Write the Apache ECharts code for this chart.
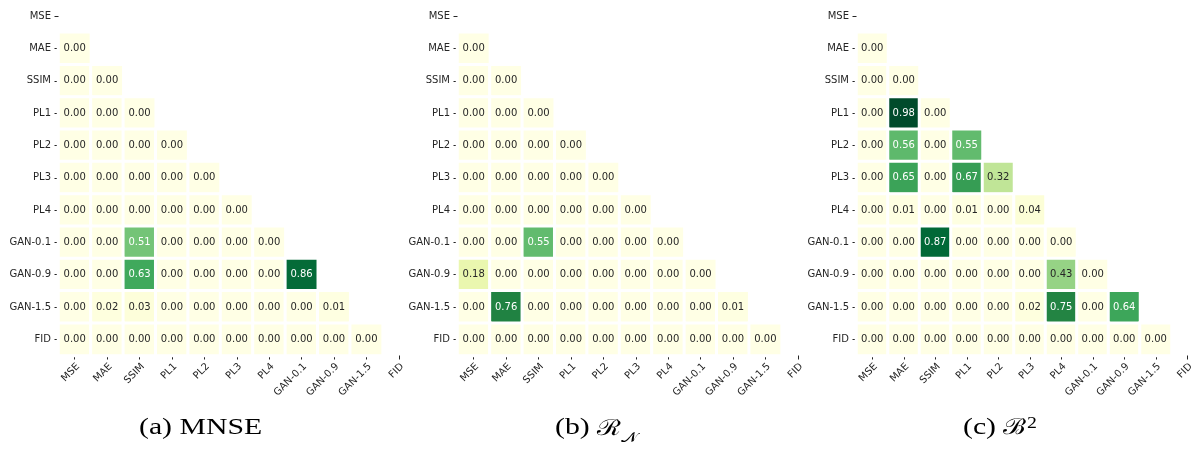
<!DOCTYPE html>
<html>
<head>
<meta charset="utf-8">
<script src="https://cdn.jsdelivr.net/npm/echarts@6/dist/echarts.min.js"></script>
<style>
  html, body { margin: 0; padding: 0; background: #fff; }
  #chart { width: 1203px; height: 449px; }
</style>
</head>
<body>
<div id="chart"></div>
<script>
// Metric names shared by both axes
const categories = ['MSE', 'MAE', 'SSIM', 'PL1', 'PL2', 'PL3', 'PL4', 'GAN-0.1', 'GAN-0.9', 'GAN-1.5', 'FID'];

// Lower-triangle values: row i holds columns 0..i-1 (row MSE has none)
const mnse = [
  [],
  [0.00],
  [0.00, 0.00],
  [0.00, 0.00, 0.00],
  [0.00, 0.00, 0.00, 0.00],
  [0.00, 0.00, 0.00, 0.00, 0.00],
  [0.00, 0.00, 0.00, 0.00, 0.00, 0.00],
  [0.00, 0.00, 0.51, 0.00, 0.00, 0.00, 0.00],
  [0.00, 0.00, 0.63, 0.00, 0.00, 0.00, 0.00, 0.86],
  [0.00, 0.02, 0.03, 0.00, 0.00, 0.00, 0.00, 0.00, 0.01],
  [0.00, 0.00, 0.00, 0.00, 0.00, 0.00, 0.00, 0.00, 0.00, 0.00]
];

const rn = [
  [],
  [0.00],
  [0.00, 0.00],
  [0.00, 0.00, 0.00],
  [0.00, 0.00, 0.00, 0.00],
  [0.00, 0.00, 0.00, 0.00, 0.00],
  [0.00, 0.00, 0.00, 0.00, 0.00, 0.00],
  [0.00, 0.00, 0.55, 0.00, 0.00, 0.00, 0.00],
  [0.18, 0.00, 0.00, 0.00, 0.00, 0.00, 0.00, 0.00],
  [0.00, 0.76, 0.00, 0.00, 0.00, 0.00, 0.00, 0.00, 0.01],
  [0.00, 0.00, 0.00, 0.00, 0.00, 0.00, 0.00, 0.00, 0.00, 0.00]
];

const b2 = [
  [],
  [0.00],
  [0.00, 0.00],
  [0.00, 0.98, 0.00],
  [0.00, 0.56, 0.00, 0.55],
  [0.00, 0.65, 0.00, 0.67, 0.32],
  [0.00, 0.01, 0.00, 0.01, 0.00, 0.04],
  [0.00, 0.00, 0.87, 0.00, 0.00, 0.00, 0.00],
  [0.00, 0.00, 0.00, 0.00, 0.00, 0.00, 0.43, 0.00],
  [0.00, 0.00, 0.00, 0.00, 0.00, 0.02, 0.75, 0.00, 0.64],
  [0.00, 0.00, 0.00, 0.00, 0.00, 0.00, 0.00, 0.00, 0.00, 0.00]
];

const panels = [mnse, rn, b2];

// YlGn colour ramp
const ylgn = ['#ffffe5', '#f7fcb9', '#d9f0a3', '#addd8e', '#78c679', '#41ab5d', '#238443', '#006837', '#004529'];

const FONT = 'DejaVu Sans';
const gridLeft = [58.5, 457.5, 856.5];

function toData(matrix) {
  const out = [];
  matrix.forEach((row, y) => {
    row.forEach((v, x) => {
      out.push({
        value: [x, y, v],
        label: { color: v > 0.5 ? '#ffffff' : '#262626' }
      });
    });
  });
  return out;
}

const tickStyle = { show: true, alignWithLabel: true, interval: 0, length: 4, lineStyle: { color: '#262626', width: 1 } };

const grids = [], xAxes = [], yAxes = [], series = [], visualMaps = [];
panels.forEach((m, i) => {
  grids.push({ left: gridLeft[i], width: 356.5, top: -2, height: 357.5 });
  xAxes.push({
    type: 'category', gridIndex: i, data: categories,
    axisLine: { show: false },
    axisTick: tickStyle,
    axisLabel: { interval: 0, rotate: 45, margin: 6, verticalAlign: 'top', fontFamily: FONT, fontSize: 10, color: '#262626' },
    splitLine: { show: false }
  });
  yAxes.push({
    type: 'category', gridIndex: i, data: categories, inverse: true,
    axisLine: { show: false },
    axisTick: tickStyle,
    axisLabel: { interval: 0, margin: 7.5, fontFamily: FONT, fontSize: 10, color: '#262626' },
    splitLine: { show: false }
  });
  series.push({
    type: 'heatmap', xAxisIndex: i, yAxisIndex: i,
    data: toData(m),
    itemStyle: { borderColor: '#ffffff', borderWidth: 3 },
    label: {
      show: true, fontFamily: FONT, fontSize: 10,
      formatter: p => p.value[2].toFixed(2)
    },
    emphasis: { disabled: true }
  });
  visualMaps.push({
    type: 'continuous', show: false, seriesIndex: i, dimension: 2,
    min: 0, max: 1, inRange: { color: ylgn }
  });
});

// Sub-figure captions
const capFont = 'Liberation Serif';
const graphics = [
  {
    type: 'text', x: 139, y: 440, scaleX: 1.24,
    style: { text: '(a) MNSE', fontFamily: capFont, fontSize: 24, fill: '#000', textAlign: 'left', textVerticalAlign: 'bottom' }
  },
  {
    type: 'text', x: 555, y: 445, scaleX: 1.24,
    style: {
      text: '{m|(b) }{cal|ℛ}{sub|𝒩}', textAlign: 'left', textVerticalAlign: 'bottom',
      rich: {
        m: { fontFamily: capFont, fontSize: 24, fill: '#000', verticalAlign: 'bottom', padding: [0, 0, 5, 0] },
        cal: { fontFamily: 'DejaVu Serif', fontSize: 22, fill: '#000', verticalAlign: 'bottom', padding: [0, 0, 5, 0] },
        sub: { fontFamily: 'DejaVu Serif', fontSize: 14, fill: '#000', verticalAlign: 'bottom' }
      }
    }
  },
  {
    type: 'text', x: 963, y: 440, scaleX: 1.24,
    style: {
      text: '(c) {cal|ℬ}{sup|2}', fontFamily: capFont, fontSize: 24, fill: '#000', textAlign: 'left', textVerticalAlign: 'bottom',
      rich: {
        cal: { fontFamily: 'DejaVu Serif', fontSize: 22, fill: '#000' },
        sup: { fontFamily: capFont, fontSize: 16, fill: '#000', verticalAlign: 'top', padding: [0, 0, 8, 1] }
      }
    }
  }
];

const chart = echarts.init(document.getElementById('chart'), null, { renderer: 'canvas' });
chart.setOption({
  animation: false,
  backgroundColor: '#ffffff',
  grid: grids,
  xAxis: xAxes,
  yAxis: yAxes,
  visualMap: visualMaps,
  series: series,
  graphic: graphics
});
</script>
</body>
</html>
